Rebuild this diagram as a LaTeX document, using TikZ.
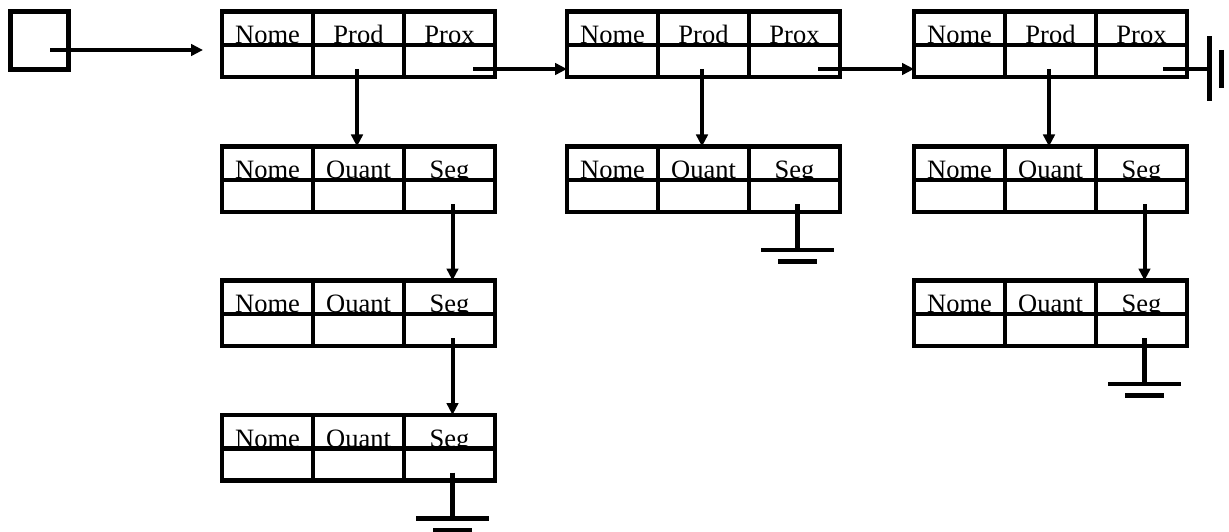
\documentclass[tikz,border=0pt]{standalone}
\usepackage{fontspec}
\setmainfont{Liberation Serif}
\usetikzlibrary{positioning,arrows.meta}

% um registro: tres campos com nome e tres campos vazios
\newcommand{\registro}[5]{%
  \node[cab] (#1a) at (#2) {#3};
  \node[cab, right=0pt of #1a] (#1b) {#4};
  \node[cab, right=0pt of #1b] (#1c) {#5};
  \node[cel, below=0pt of #1a] (#1d) {};
  \node[cel, below=0pt of #1b] (#1e) {};
  \node[cel, below=0pt of #1c] (#1f) {};
}
% fio terra para baixo
\newcommand{\terra}[1]{%
  \draw[terra] ([shift={(-36.5,0)}]#1) -- ([shift={(36.5,0)}]#1);
  \draw[terra] ([shift={(-19.5,11.5)}]#1) -- ([shift={(19.5,11.5)}]#1);
}

\begin{document}
\begin{tikzpicture}[x=1pt, y=-1pt,
		font=\fontsize{26.5}{31}\selectfont,
		cab/.style={draw, line width=4.5pt, minimum width=91pt, minimum height=33.5pt, inner sep=0pt, outer sep=0pt, text height=30.5pt, text depth=0pt, anchor=north west},
		cel/.style={draw, fill=white, line width=4.5pt, minimum width=91pt, minimum height=32pt, inner sep=0pt, outer sep=0pt},
		seta/.style={line width=4pt, -{Triangle[length=12pt,width=11.5pt]}},
		terra/.style={line width=4.5pt}]
		\useasboundingbox (0,0) rectangle (1229,532);

		\node (ini)[draw, line width=4.5pt, minimum size=58pt, inner sep=0pt, outer sep=0pt] at (39.5,40.5) {};
		\coordinate (fim) at (203,50);
		\draw [seta]([shift={(10.5,9.5)}]ini.center) -- (fim);

		\registro{p1}{222,11.5}{Nome}{Prod}{Prox}
		\registro{p2}{567,11.5}{Nome}{Prod}{Prox}
		\registro{p3}{914,11.5}{Nome}{Prod}{Prox}
		\registro{q1}{222,146.5}{Nome}{Quant}{Seg}
		\registro{q2}{222,280.5}{Nome}{Quant}{Seg}
		\registro{q3}{222,415}{Nome}{Quant}{Seg}
		\registro{q4}{567,146.5}{Nome}{Quant}{Seg}
		\registro{q5}{914,146.5}{Nome}{Quant}{Seg}
		\registro{q6}{914,280.5}{Nome}{Quant}{Seg}

		% Prox
		\draw [seta]([shift={(23.5,8)}]p1f.center) -- ([shift={(0,8)}]p2d.west);
		\draw [seta]([shift={(23.5,8)}]p2f.center) -- ([shift={(0,8)}]p3d.west);
		\coordinate (t4) at ([shift={(22.5,8)}]p3f.east);
		\draw [terra]([shift={(21.5,8)}]p3f.center) -- (t4);
		\draw [terra]([shift={(0,-32.5)}]t4) -- ([shift={(0,32.5)}]t4);
		\draw [terra]([shift={(12,-19)}]t4) -- ([shift={(12,19)}]t4);

		% Prod
		\draw [seta]([shift={(-1.5,8)}]p1e.center) -- ([xshift=-1.5pt]q1b.north);
		\draw [seta]([shift={(-1.5,8)}]p2e.center) -- ([xshift=-1.5pt]q4b.north);
		\draw [seta]([shift={(-1.5,8)}]p3e.center) -- ([xshift=-1.5pt]q5b.north);

		% Seg
		\draw [seta]([shift={(3,8)}]q1f.center) -- ([xshift=3pt]q2c.north);
		\draw [seta]([shift={(3,8)}]q2f.center) -- ([xshift=3pt]q3c.north);
		\draw [seta]([shift={(3,8)}]q5f.center) -- ([xshift=3pt]q6c.north);

		\coordinate (t1) at ([shift={(3,38)}]q4f.south);
		\draw [terra]([shift={(3,8)}]q4f.center) -- (t1);
		\terra{t1}
		\coordinate (t2) at ([shift={(3,38)}]q6f.south);
		\draw [terra]([shift={(3,8)}]q6f.center) -- (t2);
		\terra{t2}
		\coordinate (t3) at ([shift={(3,38)}]q3f.south);
		\draw [terra]([shift={(3,8)}]q3f.center) -- (t3);
		\terra{t3}
	\end{tikzpicture}
\end{document}
